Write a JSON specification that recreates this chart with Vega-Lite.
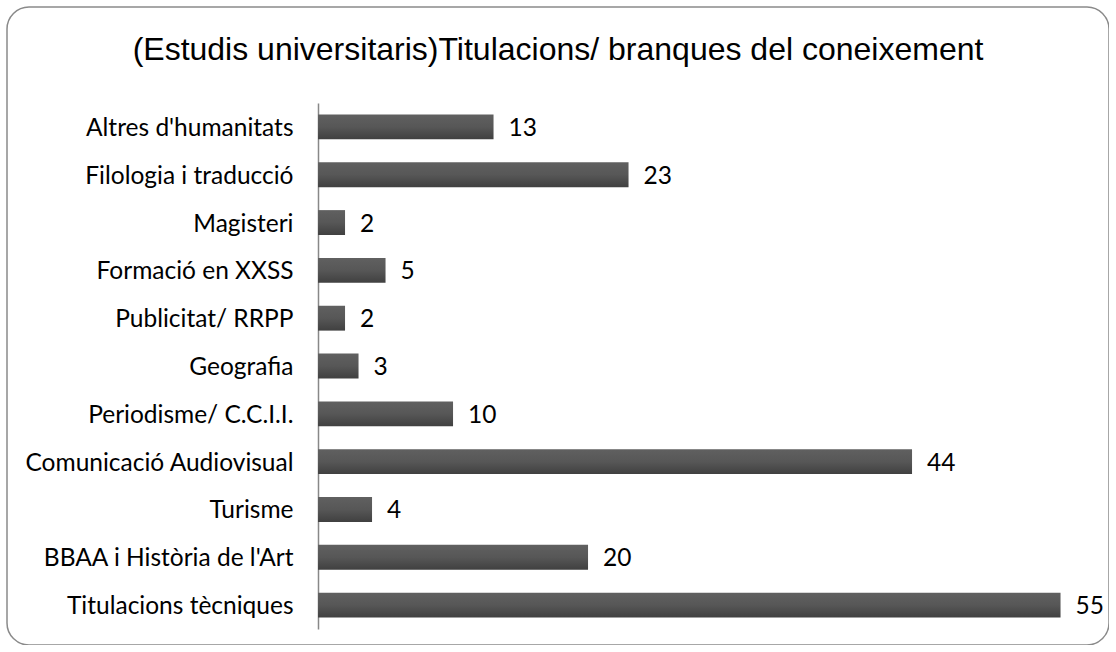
{
  "$schema": "https://vega.github.io/schema/vega-lite/v6.json",
  "width": 1102,
  "height": 638,
  "autosize": {"type": "none"},
  "padding": {"left": 7, "top": 7, "right": 0, "bottom": 0},
  "background": "white",
  "config": {
    "view": {"stroke": "#8a8a8a", "strokeWidth": 1.5, "cornerRadius": 22}
  },
  "title": {
    "text": "(Estudis universitaris)Titulacions/ branques del coneixement",
    "font": "Liberation Sans",
    "fontSize": 32,
    "fontWeight": "normal",
    "color": "#000000",
    "anchor": "middle",
    "baseline": "alphabetic",
    "offset": -85
  },
  "data": {
    "values": [
      {"category": "Altres d'humanitats", "value": 13},
      {"category": "Filologia i traducció", "value": 23},
      {"category": "Magisteri", "value": 2},
      {"category": "Formació en XXSS", "value": 5},
      {"category": "Publicitat/ RRPP", "value": 2},
      {"category": "Geografia", "value": 3},
      {"category": "Periodisme/ C.C.I.I.", "value": 10},
      {"category": "Comunicació Audiovisual", "value": 44},
      {"category": "Turisme", "value": 4},
      {"category": "BBAA i Història de l'Art", "value": 20},
      {"category": "Titulacions tècniques", "value": 55}
    ]
  },
  "encoding": {
    "y": {
      "field": "category",
      "type": "nominal",
      "sort": null,
      "scale": {"range": [96, 622], "paddingInner": 0.48, "paddingOuter": 0.24},
      "axis": {
        "title": null,
        "offset": -311,
        "ticks": false,
        "labelPadding": 25,
        "labelOffset": 2,
        "labelFont": "Lato",
        "labelFontSize": 24.5,
        "labelColor": "#000000",
        "labelLimit": 400,
        "domainColor": "#888888",
        "domainWidth": 1.5,
        "grid": false
      }
    },
    "x": {
      "field": "value",
      "type": "quantitative",
      "scale": {"domain": [-23.04, 58.59], "nice": false, "zero": false},
      "axis": null
    }
  },
  "layer": [
    {
      "mark": {
        "type": "bar",
        "color": {
          "gradient": "linear",
          "x1": 0, "y1": 0, "x2": 0, "y2": 1,
          "stops": [
            {"offset": 0, "color": "#606060"},
            {"offset": 0.5, "color": "#575757"},
            {"offset": 1, "color": "#404040"}
          ]
        }
      },
      "encoding": {"x2": {"datum": 0}}
    },
    {
      "mark": {
        "type": "text",
        "align": "left",
        "baseline": "middle",
        "dx": 15,
        "dy": 2,
        "font": "Lato",
        "fontSize": 24.5,
        "color": "#000000"
      },
      "encoding": {"text": {"field": "value", "type": "quantitative"}}
    }
  ]
}
